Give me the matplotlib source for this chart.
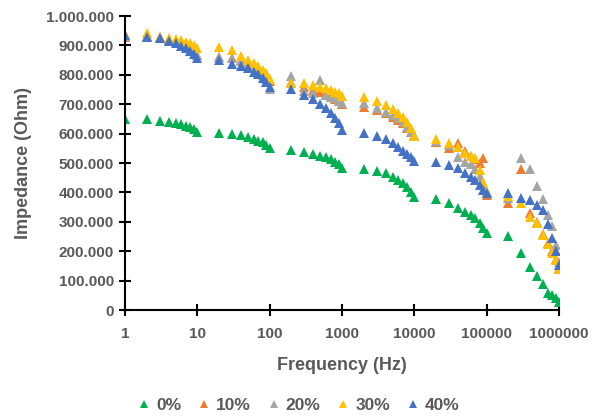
import matplotlib
matplotlib.use("Agg")
import matplotlib.pyplot as plt
from matplotlib.ticker import FuncFormatter, FixedLocator, NullLocator

# Fréquences (Hz) : 1..9, 10..90, ..., 100000..900000, 1000000
freq = [1, 2, 3, 4, 5, 6, 7, 8, 9,
        10, 20, 30, 40, 50, 60, 70, 80, 90,
        100, 200, 300, 400, 500, 600, 700, 800, 900,
        1000, 2000, 3000, 4000, 5000, 6000, 7000, 8000, 9000,
        10000, 20000, 30000, 40000, 50000, 60000, 70000, 80000, 90000,
        100000, 200000, 300000, 400000, 500000, 600000, 700000, 800000, 900000,
        1000000]

# Impédance (en milliers d'Ohm)
z_0 = [650, 650, 643, 639, 636, 632, 627, 622, 616,
       606, 602, 599, 595, 588, 582, 576, 570, 561,
       551, 544, 539, 530, 524, 519, 513, 505, 497,
       484, 480, 474, 465, 454, 442, 431, 419, 402,
       386, 376, 363, 346, 334, 323, 312, 295, 278,
       262, 252, 195, 145, 116, 87, 59, 51, 40,
       28]
z_10 = [928, 932, 927, 921, 915, 908, 900, 892, 882,
        868, 862, 857, 850, 840, 830, 820, 805, 792,
        778, 775, 760, 750, 740, 733, 725, 718, 710,
        700, 690, 680, 670, 658, 647, 636, 620, 605,
        592, 573, 552, 567, 540, 525, 512, 500, 518,
        392, 363, 480, 329, 300, 260, 228, 200, 172,
        142]
z_20 = [932, 932, 926, 920, 914, 907, 900, 892, 880,
        866, 862, 856, 848, 836, 826, 815, 800, 785,
        751, 795, 745, 737, 782, 731, 726, 720, 712,
        705, 703, 686, 675, 663, 652, 641, 624, 607,
        595, 575, 560, 522, 505, 495, 480, 455, 430,
        400, 380, 516, 480, 423, 378, 323, 285, 221,
        164]
z_30 = [940, 941, 930, 924, 922, 918, 913, 907, 901,
        892, 896, 884, 865, 850, 839, 831, 816, 805,
        785, 772, 773, 765, 760, 754, 748, 743, 737,
        728, 723, 712, 697, 682, 669, 655, 641, 618,
        592, 580, 567, 553, 535, 525, 516, 476, 435,
        403, 388, 363, 317, 295, 255, 223, 195, 170,
        139]
z_40 = [935, 930, 924, 915, 907, 899, 890, 881, 870,
        856, 850, 836, 831, 822, 811, 802, 788, 777,
        758, 751, 731, 717, 701, 686, 669, 652, 635,
        612, 603, 592, 580, 567, 553, 542, 531, 519,
        508, 502, 493, 482, 465, 454, 442, 425, 408,
        397, 397, 382, 374, 357, 340, 291, 244, 201,
        153]

labels = ["0%", "10%", "20%", "30%", "40%"]
series = [z_0, z_10, z_20, z_30, z_40]
colors = ["#00B050", "#ED7D31", "#A5A5A5", "#FFC000", "#4472C4"]

x_ticks = [1, 10, 100, 1000, 10000, 100000, 1000000]
y_ticks = [0, 100000, 200000, 300000, 400000, 500000, 600000, 700000, 800000, 900000, 1000000]

text_color = "#595959"
plt.rcParams["font.family"] = ["Liberation Sans", "DejaVu Sans"]
plt.rcParams["font.weight"] = "bold"

fig = plt.figure(figsize=(5.97, 4.17), dpi=100)
ax = fig.add_axes([125 / 597, 1 - 310 / 417, (559 - 125) / 597, (310 - 16) / 417])

for lab, vals, col in zip(labels, series, colors):
    ax.plot(freq, [v * 1000 for v in vals], linestyle="none", marker="^",
            markersize=7, color=col, markeredgewidth=0, label=lab)

ax.set_xscale("log")
ax.set_xlim(1, 1000000)
ax.set_ylim(0, 1000000)
ax.xaxis.set_major_locator(FixedLocator(x_ticks))
ax.xaxis.set_minor_locator(NullLocator())
ax.set_yticks(y_ticks)
ax.xaxis.set_major_formatter(FuncFormatter(lambda v, p: f"{int(round(v))}"))
ax.yaxis.set_major_formatter(FuncFormatter(lambda v, p: f"{int(v):,}".replace(",", ".")))

for side in ["top", "right"]:
    ax.spines[side].set_visible(False)
for side in ["left", "bottom"]:
    ax.spines[side].set_linewidth(1.5)
    ax.spines[side].set_color("black")

ax.tick_params(axis="both", direction="inout", length=8, width=1.5, color="black",
               labelsize=11, labelcolor=text_color)
ax.tick_params(axis="x", pad=8)
ax.tick_params(axis="y", pad=4)

ax.set_xlabel("Frequency (Hz)", fontsize=13, color=text_color, fontweight="bold", labelpad=12)
ax.set_ylabel("Impedance (Ohm)", fontsize=13, color=text_color, fontweight="bold", labelpad=10)

fig.legend(loc="lower center", bbox_to_anchor=(0.5, 0.005), ncol=5, frameon=False,
           fontsize=12.5, markerscale=0.75, handlelength=0.8, handletextpad=0.3,
           columnspacing=0.9, labelcolor=text_color, borderaxespad=0, borderpad=0.1)

fig.savefig("out.png", dpi=100)
